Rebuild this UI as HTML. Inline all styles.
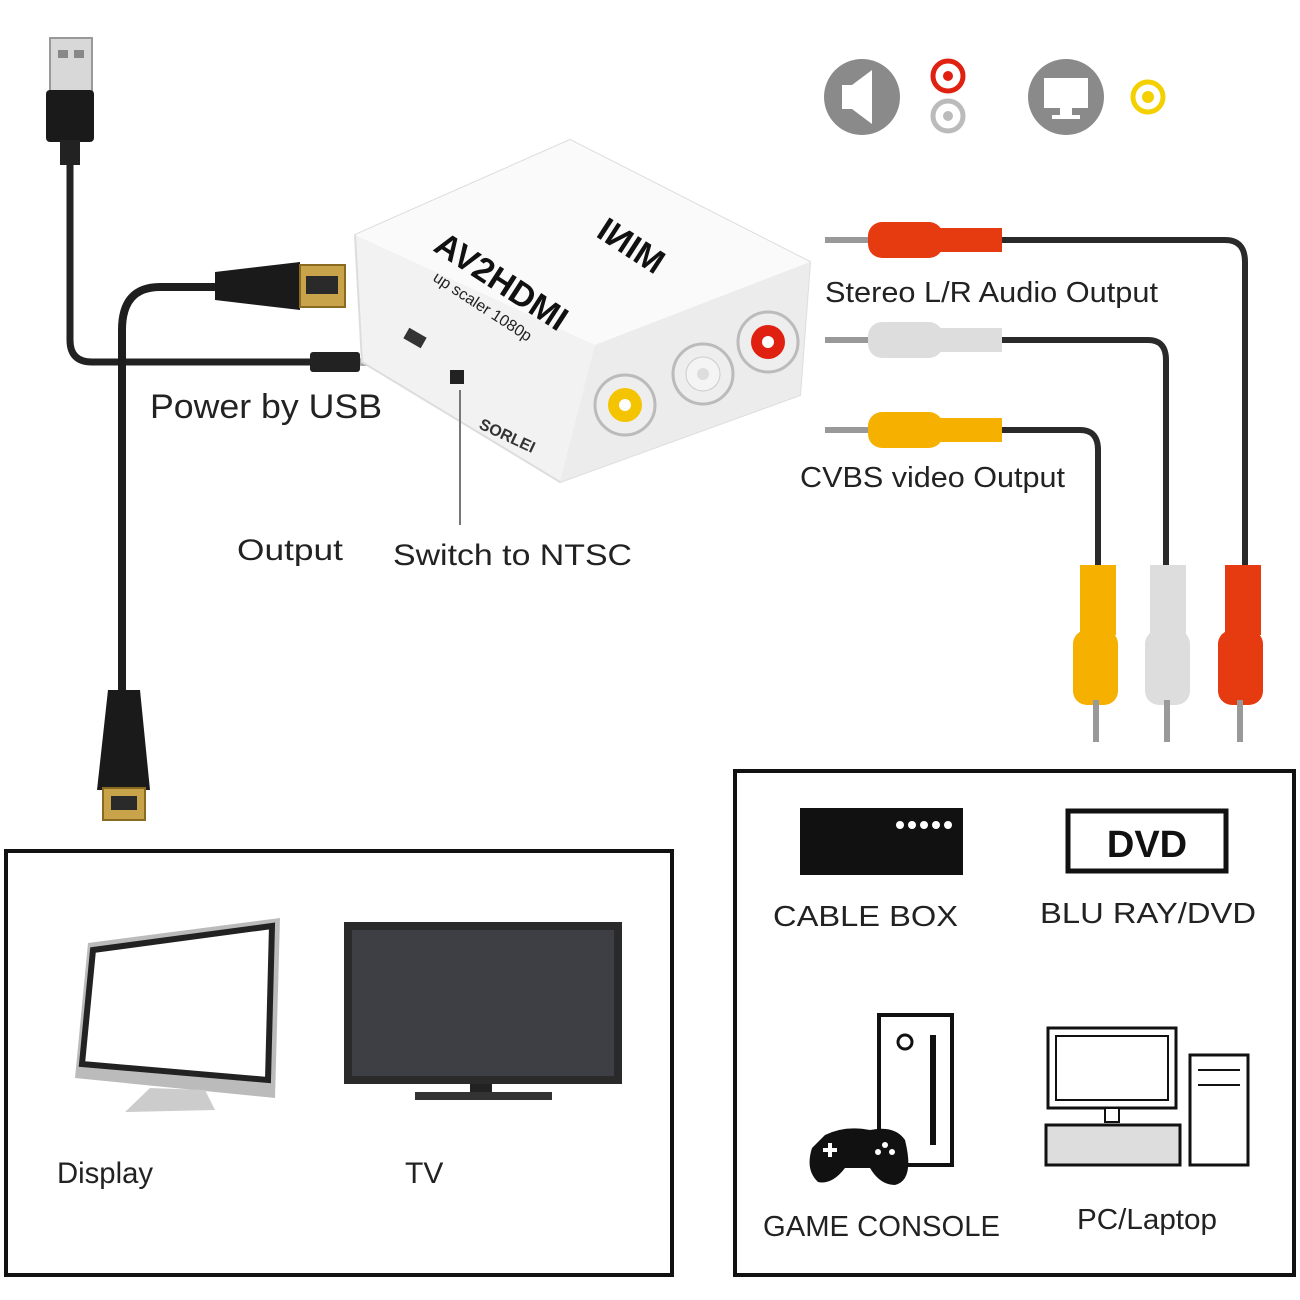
<!DOCTYPE html>
<html><head><meta charset="utf-8"><style>
html,body{margin:0;padding:0;background:#fff}
svg{display:block}
text{font-family:"Liberation Sans",sans-serif}
</style></head><body>
<svg width="1300" height="1300" viewBox="0 0 1300 1300" xmlns="http://www.w3.org/2000/svg">
<rect width="1300" height="1300" fill="#fff"/>
<path d="M70 140 V340 Q70 362 92 362 H315" stroke="#222" stroke-width="7" fill="none"/>
<rect x="50" y="38" width="42" height="55" fill="#d8d8d8" stroke="#999" stroke-width="2"/>
<rect x="58" y="50" width="10" height="8" fill="#888"/><rect x="74" y="50" width="10" height="8" fill="#888"/>
<rect x="46" y="90" width="48" height="52" rx="4" fill="#1a1a1a"/>
<rect x="60" y="140" width="20" height="25" fill="#222"/>
<rect x="310" y="352" width="50" height="20" rx="3" fill="#222"/>
<rect x="360" y="358" width="20" height="8" fill="#aaa"/>
<path d="M218 287 H160 Q122 287 122 330 V700" stroke="#1e1e1e" stroke-width="8" fill="none"/>
<path d="M215 272 L300 262 L300 310 L215 300 Z" fill="#1a1a1a"/>
<rect x="300" y="265" width="45" height="42" fill="#c9a34a" stroke="#8a6a20" stroke-width="2"/>
<rect x="306" y="276" width="32" height="18" fill="#2a2a2a"/>
<path d="M108 690 L140 690 L150 790 L97 790 Z" fill="#1a1a1a"/>
<rect x="103" y="788" width="42" height="32" fill="#c9a34a" stroke="#8a6a20" stroke-width="2"/>
<rect x="111" y="796" width="26" height="14" fill="#2a2a2a"/>
<polygon points="355,235 570,140 810,262 800,395 560,482 362,362" fill="#f2f2f2" stroke="#ddd" stroke-width="2"/>
<polygon points="355,235 570,140 810,262 595,345" fill="#fafafa"/>
<polygon points="595,345 810,262 800,395 560,482" fill="#ececec"/>
<text x="0" y="0" font-size="34" font-weight="bold" fill="#111" transform="translate(432,250) rotate(33)">AV2HDMI</text>
<text x="0" y="0" font-size="16" fill="#222" transform="translate(432,280) rotate(33)">up scaler 1080p</text>
<text x="0" y="0" font-size="34" font-weight="bold" fill="#111" transform="translate(655,275) rotate(-147) scale(1,-1)">MINI</text>
<text x="0" y="0" font-size="16" font-weight="bold" fill="#333" transform="translate(478,428) rotate(25)">SORLEI</text>
<rect x="450" y="370" width="14" height="14" fill="#222"/>
<rect x="405" y="332" width="20" height="12" fill="#333" transform="rotate(30 415 338)"/>
<circle cx="625" cy="405" r="30" fill="#eee" stroke="#bbb" stroke-width="3"/><circle cx="625" cy="405" r="17" fill="#f5c400"/><circle cx="625" cy="405" r="6" fill="#fff"/>
<circle cx="703" cy="374" r="30" fill="#eee" stroke="#bbb" stroke-width="3"/><circle cx="703" cy="374" r="17" fill="#f4f4f4" stroke="#ccc"/><circle cx="703" cy="374" r="6" fill="#ddd"/>
<circle cx="768" cy="342" r="30" fill="#eee" stroke="#bbb" stroke-width="3"/><circle cx="768" cy="342" r="17" fill="#e02010"/><circle cx="768" cy="342" r="6" fill="#fff"/>
<line x1="460" y1="390" x2="460" y2="525" stroke="#777" stroke-width="2"/>
<text x="150" y="418" font-size="34" fill="#222" textLength="232" lengthAdjust="spacingAndGlyphs">Power by USB</text>
<text x="237" y="560" font-size="30" fill="#222" textLength="106" lengthAdjust="spacingAndGlyphs">Output</text>
<text x="393" y="565" font-size="30" fill="#222" textLength="239" lengthAdjust="spacingAndGlyphs">Switch to NTSC</text>
<text x="825" y="302" font-size="29" fill="#222" textLength="333" lengthAdjust="spacingAndGlyphs">Stereo L/R Audio Output</text>
<text x="800" y="487" font-size="29" fill="#222" textLength="265" lengthAdjust="spacingAndGlyphs">CVBS video Output</text>
<path d="M1000 240 H1225 Q1245 240 1245 262 V570" stroke="#2a2a2a" stroke-width="6" fill="none"/>
<path d="M1000 340 H1148 Q1166 340 1166 360 V570" stroke="#2a2a2a" stroke-width="6" fill="none"/>
<path d="M1000 430 H1080 Q1098 430 1098 450 V570" stroke="#2a2a2a" stroke-width="6" fill="none"/>
<line x1="825" y1="240" x2="870" y2="240" stroke="#999" stroke-width="6"/>
<rect x="868" y="222" width="75" height="36" rx="14" fill="#e63a10"/><rect x="940" y="228" width="62" height="24" fill="#e63a10"/>
<line x1="825" y1="340" x2="870" y2="340" stroke="#999" stroke-width="6"/>
<rect x="868" y="322" width="75" height="36" rx="14" fill="#ddd"/><rect x="940" y="328" width="62" height="24" fill="#ddd"/>
<line x1="825" y1="430" x2="870" y2="430" stroke="#999" stroke-width="6"/>
<rect x="868" y="412" width="75" height="36" rx="14" fill="#f5b000"/><rect x="940" y="418" width="62" height="24" fill="#f5b000"/>
<rect x="1080" y="565" width="36" height="70" fill="#f5b000"/><rect x="1073" y="630" width="45" height="75" rx="14" fill="#f5b000"/><line x1="1096" y1="700" x2="1096" y2="742" stroke="#999" stroke-width="6"/>
<rect x="1150" y="565" width="36" height="70" fill="#ddd"/><rect x="1145" y="630" width="45" height="75" rx="14" fill="#ddd"/><line x1="1167" y1="700" x2="1167" y2="742" stroke="#999" stroke-width="6"/>
<rect x="1225" y="565" width="36" height="70" fill="#e63a10"/><rect x="1218" y="630" width="45" height="75" rx="14" fill="#e63a10"/><line x1="1240" y1="700" x2="1240" y2="742" stroke="#999" stroke-width="6"/>
<circle cx="862" cy="97" r="38" fill="#8a8a8a"/>
<path d="M842 85 H852 L872 70 V124 L852 109 H842 Z" fill="#fff"/>
<circle cx="948" cy="76" r="15" fill="#fff" stroke="#e02010" stroke-width="5"/><circle cx="948" cy="76" r="5" fill="#e02010"/>
<circle cx="948" cy="116" r="15" fill="#fff" stroke="#bbb" stroke-width="5"/><circle cx="948" cy="116" r="5" fill="#bbb"/>
<circle cx="1066" cy="97" r="38" fill="#8a8a8a"/>
<rect x="1044" y="78" width="44" height="30" fill="#fff"/><rect x="1060" y="108" width="12" height="8" fill="#fff"/><rect x="1052" y="115" width="28" height="4" fill="#fff"/>
<circle cx="1148" cy="97" r="15" fill="#fff" stroke="#f5d000" stroke-width="5"/><circle cx="1148" cy="97" r="6" fill="#f5d000"/>
<rect x="6" y="851" width="666" height="424" fill="none" stroke="#111" stroke-width="4"/>
<polygon points="88,943 280,918 275,1098 75,1078" fill="#bbb"/>
<polygon points="93,950 272,926 268,1080 82,1064" fill="#fff" stroke="#222" stroke-width="6"/>
<polygon points="150,1088 205,1090 215,1110 125,1112" fill="#ccc"/>
<rect x="344" y="922" width="278" height="162" fill="#2a2a2a"/>
<rect x="352" y="930" width="262" height="146" fill="#3d3f44"/>
<rect x="470" y="1084" width="22" height="10" fill="#222"/><rect x="415" y="1092" width="137" height="8" fill="#333"/>
<text x="57" y="1183" font-size="30" fill="#222" textLength="96" lengthAdjust="spacingAndGlyphs">Display</text>
<text x="405" y="1183" font-size="30" fill="#222">TV</text>
<rect x="735" y="771" width="559" height="504" fill="none" stroke="#111" stroke-width="4"/>
<rect x="800" y="808" width="163" height="67" fill="#111"/>
<circle cx="900" cy="825" r="4" fill="#fff"/><circle cx="912" cy="825" r="4" fill="#fff"/><circle cx="924" cy="825" r="4" fill="#fff"/><circle cx="936" cy="825" r="4" fill="#fff"/><circle cx="948" cy="825" r="4" fill="#fff"/>
<rect x="1068" y="811" width="158" height="60" fill="#fff" stroke="#111" stroke-width="5"/>
<text x="1147" y="857" font-size="38" font-weight="bold" text-anchor="middle" fill="#111">DVD</text>
<text x="773" y="926" font-size="29" fill="#222" textLength="185" lengthAdjust="spacingAndGlyphs">CABLE BOX</text>
<text x="1040" y="923" font-size="29" fill="#222" textLength="216" lengthAdjust="spacingAndGlyphs">BLU RAY/DVD</text>
<rect x="879" y="1015" width="73" height="150" fill="#fff" stroke="#111" stroke-width="4"/>
<circle cx="905" cy="1042" r="7" fill="none" stroke="#111" stroke-width="3"/>
<rect x="930" y="1035" width="6" height="110" fill="#111"/>
<path d="M825 1135 Q845 1125 870 1130 Q895 1125 905 1140 Q915 1180 895 1185 Q880 1185 870 1168 H845 Q832 1185 818 1182 Q805 1170 812 1148 Z" fill="#111"/>
<rect x="823" y="1148" width="14" height="4" fill="#fff"/><rect x="828" y="1143" width="4" height="14" fill="#fff"/>
<circle cx="885" cy="1145" r="3" fill="#fff"/><circle cx="892" cy="1152" r="3" fill="#fff"/><circle cx="878" cy="1152" r="3" fill="#fff"/>
<rect x="1048" y="1028" width="128" height="80" fill="#fff" stroke="#111" stroke-width="3"/>
<rect x="1056" y="1036" width="112" height="64" fill="#fff" stroke="#111" stroke-width="2"/>
<rect x="1105" y="1108" width="14" height="14" fill="#fff" stroke="#111" stroke-width="2"/>
<rect x="1046" y="1125" width="134" height="40" fill="#ddd" stroke="#111" stroke-width="3"/>
<rect x="1190" y="1055" width="58" height="110" fill="#fff" stroke="#111" stroke-width="3"/>
<line x1="1198" y1="1070" x2="1240" y2="1070" stroke="#111" stroke-width="2"/><line x1="1198" y1="1085" x2="1240" y2="1085" stroke="#111" stroke-width="2"/>
<text x="763" y="1236" font-size="29" fill="#222" textLength="237" lengthAdjust="spacingAndGlyphs">GAME CONSOLE</text>
<text x="1077" y="1229" font-size="29" fill="#222" textLength="140" lengthAdjust="spacingAndGlyphs">PC/Laptop</text>
</svg>
</body></html>
